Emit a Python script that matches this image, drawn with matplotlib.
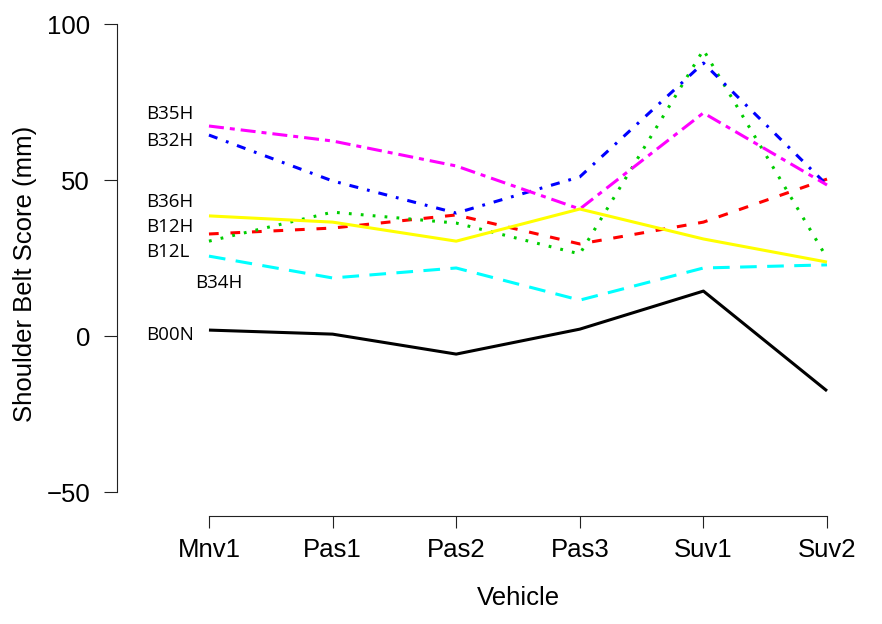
import numpy as np
import matplotlib
matplotlib.use("Agg")
import matplotlib.pyplot as plt

plt.rcParams['lines.scale_dashes'] = False

vehicles = ["Mnv1", "Pas1", "Pas2", "Pas3", "Suv1", "Suv2"]

# shoulder belt score (mm) per test condition
b00n = [1.9, 0.6, -5.8, 2.2, 14.4, -17.6]
b12h = [32.7, 34.6, 38.8, 29.5, 36.5, 50.3]
b12l = [30.4, 39.7, 36.2, 26.3, 91.7, 25.0]
b32h = [64.4, 49.7, 39.4, 51.0, 87.5, 48.4]
b34h = [25.6, 18.6, 21.8, 11.5, 21.8, 22.8]
b35h = [67.3, 62.5, 54.5, 40.7, 71.5, 48.4]
b36h = [38.5, 36.5, 30.4, 40.7, 31.1, 23.7]

names = ["B00N", "B12H", "B12L", "B32H", "B34H", "B35H", "B36H"]
series = [b00n, b12h, b12l, b32h, b34h, b35h, b36h]
colors = ["black", "#FF0000", "#00CD00", "#0000FF", "#00FFFF", "#FF00FF", "#FFFF00"]
styles = ["-", (0, (7, 8.5)), (0, (2, 6.6)), (0, (6.5, 6.5, 2, 6.5)),
          (0, (12, 7.5)), (0, (10.8, 4.3, 3.6, 4.3)), "-"]

# where the text tags sit (data coords)
label_x = [-0.51, -0.51, -0.51, -0.51, -0.11, -0.51, -0.51]
label_y = [-1.3, 33.3, 25.3, 60.9, 15.4, 69.6, 41.3]

W, H = 882, 624
fig = plt.figure(figsize=(W / 100, H / 100), dpi=100)
ax = fig.add_axes([117 / W, (H - 516) / H, (850 - 117) / W, (516 - 5) / H])

x = np.arange(len(vehicles))
for name, vals, c, ls in zip(names, series, colors, styles):
    ax.plot(x, vals, color=c, linestyle=ls, linewidth=2.2,
            dash_capstyle='butt', solid_capstyle='butt')

for name, lx, ly in zip(names, label_x, label_y):
    ax.text(lx, ly, name, fontsize=13.5, family="Open Sans",
            ha='left', va='baseline')

ax.set_xlim(-0.744, 5.186)
ax.set_ylim(-57.69, 106.09)

for s in ["top", "right"]:
    ax.spines[s].set_visible(False)
ax.spines["left"].set_bounds(-50, 100)
ax.spines["bottom"].set_bounds(0, 5)
for s in ["left", "bottom"]:
    ax.spines[s].set_linewidth(0.8)
    ax.spines[s].set_color("#222222")

ax.set_xticks(x)
ax.set_xticklabels(vehicles)
ax.set_yticks([-50, 0, 50, 100])
ax.set_yticklabels(["\u221250", "0", "50", "100"])
ax.tick_params(axis='y', length=9.4, width=0.8, pad=10, labelsize=18.5, color="#222222")
ax.tick_params(axis='x', length=8.5, width=0.8, pad=7, labelsize=18.5, color="#222222")
for lab in ax.get_xticklabels() + ax.get_yticklabels():
    lab.set_family("Liberation Sans")

ax.set_xlabel("Vehicle", fontsize=18.5, family="Liberation Sans")
ax.set_ylabel("Shoulder Belt Score (mm)", fontsize=18.5, family="Liberation Sans")
ax.xaxis.set_label_coords(518 / W, 1 - 598 / H, transform=fig.transFigure)
ax.yaxis.set_label_coords(25 / W, 1 - 274 / H, transform=fig.transFigure)
ax.xaxis.label.set_va('center')
ax.yaxis.label.set_va('center')

fig.savefig("out.png", dpi=100)
